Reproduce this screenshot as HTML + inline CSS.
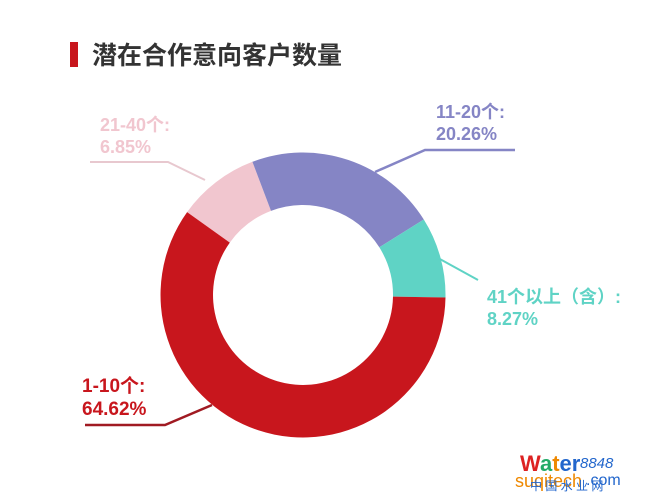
<!DOCTYPE html>
<html><head><meta charset="utf-8"><style>
body{margin:0;background:#fff;}
svg{display:block;}
text{font-family:"Liberation Sans","Noto Sans CJK SC",sans-serif;}
</style></head><body>
<svg width="648" height="494" viewBox="0 0 648 494" xmlns="http://www.w3.org/2000/svg">
<rect width="648" height="494" fill="#fff"/>
<rect x="70" y="42" width="8" height="25" fill="#c8161d"/>
<text x="92" y="64" font-size="25" font-weight="bold" fill="#333">潜在合作意向客户数量</text>

<path d="M187.1,212.1 A142.5,142.5 0 0 1 252.4,161.8 L271.0,210.9 A90,90 0 0 0 229.8,242.6 Z" fill="#f1c6cf"/>
<path d="M252.4,161.8 A142.5,142.5 0 0 1 423.8,219.5 L379.3,247.3 A90,90 0 0 0 271.0,210.9 Z" fill="#8585c5"/>
<path d="M423.8,219.5 A142.5,142.5 0 0 1 445.5,297.5 L393.0,296.6 A90,90 0 0 0 379.3,247.3 Z" fill="#5fd3c5"/>
<path d="M445.5,297.5 A142.5,142.5 0 1 1 187.1,212.1 L229.8,242.6 A90,90 0 1 0 393.0,296.6 Z" fill="#c8161d"/>

<polyline points="90,162 168,162 205,180" fill="none" stroke="#e8c8cf" stroke-width="2"/>
<polyline points="515,150 425,150 375,172" fill="none" stroke="#8585c5" stroke-width="2.5"/>
<polyline points="438,258 478,280" fill="none" stroke="#5fd3c5" stroke-width="2"/>
<polyline points="85,425 165,425 212,405" fill="none" stroke="#a01a22" stroke-width="2.5"/>

<text x="100" y="131" font-size="18" font-weight="bold" fill="#f1c6cf">21-40个:</text>
<text x="100" y="153" font-size="18" font-weight="bold" fill="#f1c6cf">6.85%</text>
<text x="436" y="118" font-size="18" font-weight="bold" fill="#8585c5">11-20个:</text>
<text x="436" y="140" font-size="18" font-weight="bold" fill="#8585c5">20.26%</text>
<text x="487" y="303" font-size="18" font-weight="bold" fill="#5fd3c5">41个以上（含）:</text>
<text x="487" y="325" font-size="18" font-weight="bold" fill="#5fd3c5">8.27%</text>
<text x="82" y="392" font-size="19" font-weight="bold" fill="#c8161d">1-10个:</text>
<text x="82" y="415" font-size="19" font-weight="bold" fill="#c8161d">64.62%</text>

<text x="520" y="471" font-size="22" font-weight="bold" fill="#d22">W<tspan fill="#2a6">a</tspan><tspan fill="#e80">t</tspan><tspan fill="#26c">er</tspan></text>
<text x="580" y="468" font-size="15" font-style="italic" fill="#26c">8848</text>
<text x="515" y="487" font-size="18" fill="#e80">suqitech</text>
<text x="586" y="485" font-size="16" fill="#26c">.com</text>
<text x="530" y="490" font-size="12" fill="#26c">中 国 水 业 网</text>
</svg>
</body></html>
